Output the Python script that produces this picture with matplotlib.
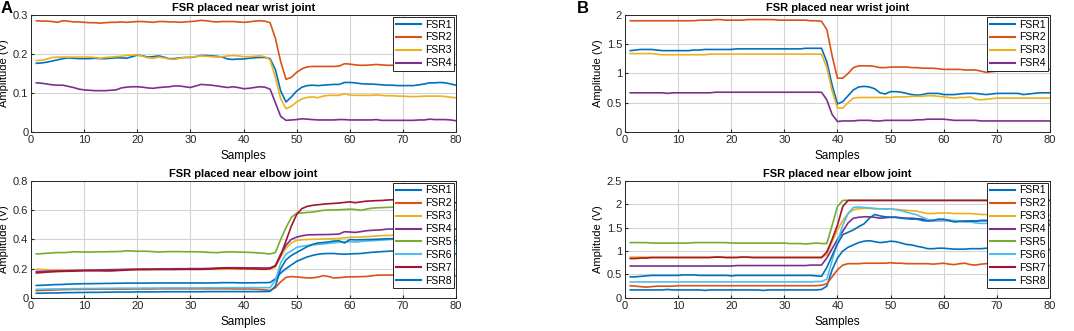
#!/usr/bin/env python3
"""
FSR amplitude traces near wrist and elbow joints (two subjects, A and B)
"""

import numpy as np
import matplotlib
matplotlib.use('Agg')  # Non-interactive backend
import matplotlib.pyplot as plt
from matplotlib.ticker import FormatStrFormatter

plt.rcParams['font.family'] = ['Liberation Sans', 'DejaVu Sans']

samples = list(range(1, 81))

# ---- Panel A, wrist ----
a_wrist_fsr1 = [
    0.176, 0.177, 0.179, 0.182, 0.185, 0.188, 0.190, 0.189, 0.188, 0.188,
    0.188, 0.189, 0.188, 0.188, 0.189, 0.190, 0.190, 0.189, 0.193, 0.197,
    0.195, 0.192, 0.193, 0.195, 0.192, 0.188, 0.188, 0.190, 0.191, 0.191,
    0.193, 0.196, 0.196, 0.195, 0.194, 0.192, 0.187, 0.186, 0.187, 0.187,
    0.189, 0.190, 0.191, 0.191, 0.188, 0.160, 0.105, 0.077, 0.090, 0.105,
    0.115, 0.119, 0.120, 0.119, 0.120, 0.121, 0.122, 0.122, 0.127, 0.127,
    0.126, 0.124, 0.123, 0.123, 0.122, 0.121, 0.120, 0.120, 0.119, 0.119,
    0.119, 0.119, 0.121, 0.123, 0.126, 0.126, 0.127, 0.126, 0.123, 0.120]
a_wrist_fsr2 = [
    0.285, 0.284, 0.284, 0.283, 0.281, 0.285, 0.284, 0.282, 0.282, 0.281,
    0.280, 0.280, 0.279, 0.280, 0.281, 0.281, 0.282, 0.281, 0.282, 0.283,
    0.283, 0.282, 0.281, 0.283, 0.283, 0.282, 0.282, 0.281, 0.282, 0.283,
    0.284, 0.286, 0.285, 0.283, 0.282, 0.283, 0.283, 0.283, 0.282, 0.281,
    0.282, 0.284, 0.285, 0.284, 0.280, 0.240, 0.180, 0.135, 0.140, 0.153,
    0.162, 0.167, 0.168, 0.168, 0.168, 0.168, 0.168, 0.169, 0.175, 0.174,
    0.172, 0.171, 0.171, 0.172, 0.173, 0.172, 0.171, 0.171, 0.171, 0.170,
    0.170, 0.170, 0.171, 0.171, 0.171, 0.171, 0.172, 0.172, 0.172, 0.172]
a_wrist_fsr3 = [
    0.183, 0.184, 0.187, 0.191, 0.192, 0.192, 0.192, 0.192, 0.192, 0.192,
    0.192, 0.191, 0.189, 0.191, 0.192, 0.193, 0.194, 0.196, 0.197, 0.198,
    0.194, 0.190, 0.189, 0.192, 0.190, 0.187, 0.186, 0.189, 0.191, 0.192,
    0.193, 0.195, 0.194, 0.193, 0.192, 0.193, 0.195, 0.196, 0.195, 0.193,
    0.193, 0.194, 0.195, 0.193, 0.185, 0.140, 0.085, 0.060, 0.066, 0.077,
    0.085, 0.089, 0.090, 0.088, 0.092, 0.094, 0.094, 0.094, 0.098, 0.095,
    0.094, 0.094, 0.094, 0.094, 0.095, 0.094, 0.093, 0.093, 0.092, 0.092,
    0.091, 0.091, 0.091, 0.092, 0.092, 0.092, 0.092, 0.091, 0.089, 0.088]
a_wrist_fsr4 = [
    0.126, 0.125, 0.123, 0.121, 0.120, 0.120, 0.117, 0.114, 0.110, 0.108,
    0.107, 0.106, 0.106, 0.106, 0.107, 0.108, 0.113, 0.115, 0.116, 0.116,
    0.115, 0.113, 0.112, 0.114, 0.115, 0.116, 0.118, 0.118, 0.116, 0.114,
    0.118, 0.122, 0.121, 0.120, 0.118, 0.116, 0.114, 0.116, 0.114, 0.111,
    0.112, 0.114, 0.116, 0.115, 0.110, 0.075, 0.040, 0.030, 0.031, 0.032,
    0.034, 0.033, 0.032, 0.031, 0.031, 0.031, 0.031, 0.032, 0.032, 0.031,
    0.031, 0.031, 0.031, 0.031, 0.032, 0.030, 0.030, 0.030, 0.030, 0.030,
    0.030, 0.030, 0.031, 0.031, 0.033, 0.032, 0.032, 0.032, 0.031, 0.029]

# ---- Panel A, elbow ----
a_elbow_fsr1 = [
    0.085, 0.086, 0.088, 0.090, 0.091, 0.092, 0.094, 0.095, 0.096, 0.097,
    0.097, 0.098, 0.098, 0.099, 0.099, 0.100, 0.100, 0.101, 0.101, 0.101,
    0.101, 0.101, 0.102, 0.102, 0.102, 0.102, 0.102, 0.102, 0.102, 0.102,
    0.102, 0.102, 0.102, 0.102, 0.103, 0.104, 0.104, 0.104, 0.103, 0.103,
    0.103, 0.103, 0.104, 0.104, 0.105, 0.130, 0.170, 0.200, 0.225, 0.250,
    0.265, 0.280, 0.290, 0.298, 0.302, 0.303, 0.303, 0.300, 0.298, 0.300,
    0.302, 0.303, 0.307, 0.311, 0.313, 0.316, 0.318, 0.320, 0.320, 0.320,
    0.319, 0.317, 0.316, 0.314, 0.312, 0.310, 0.308, 0.305, 0.302, 0.300]
a_elbow_fsr2 = [
    0.050, 0.051, 0.052, 0.053, 0.055, 0.056, 0.057, 0.058, 0.058, 0.059,
    0.059, 0.059, 0.060, 0.060, 0.060, 0.060, 0.060, 0.060, 0.061, 0.061,
    0.061, 0.061, 0.061, 0.062, 0.062, 0.062, 0.062, 0.062, 0.062, 0.062,
    0.062, 0.062, 0.062, 0.062, 0.062, 0.062, 0.062, 0.061, 0.061, 0.061,
    0.061, 0.060, 0.058, 0.055, 0.050, 0.070, 0.110, 0.140, 0.146, 0.143,
    0.140, 0.136, 0.137, 0.142, 0.152, 0.146, 0.136, 0.138, 0.142, 0.144,
    0.144, 0.145, 0.146, 0.150, 0.155, 0.156, 0.156, 0.156, 0.156, 0.155,
    0.155, 0.154, 0.154, 0.153, 0.153, 0.152, 0.152, 0.151, 0.151, 0.150]
a_elbow_fsr3 = [
    0.195, 0.194, 0.192, 0.190, 0.190, 0.189, 0.189, 0.189, 0.189, 0.190,
    0.190, 0.190, 0.190, 0.191, 0.191, 0.192, 0.192, 0.193, 0.193, 0.194,
    0.194, 0.194, 0.194, 0.195, 0.195, 0.195, 0.195, 0.195, 0.195, 0.195,
    0.195, 0.195, 0.195, 0.195, 0.195, 0.195, 0.196, 0.196, 0.196, 0.196,
    0.196, 0.195, 0.195, 0.195, 0.195, 0.210, 0.280, 0.340, 0.375, 0.393,
    0.397, 0.399, 0.400, 0.401, 0.402, 0.403, 0.404, 0.406, 0.410, 0.414,
    0.414, 0.415, 0.418, 0.420, 0.423, 0.425, 0.426, 0.427, 0.427, 0.426,
    0.425, 0.425, 0.424, 0.424, 0.423, 0.423, 0.422, 0.421, 0.420, 0.420]
a_elbow_fsr4 = [
    0.180, 0.181, 0.182, 0.183, 0.184, 0.185, 0.186, 0.187, 0.188, 0.189,
    0.190, 0.190, 0.191, 0.192, 0.193, 0.193, 0.194, 0.195, 0.196, 0.196,
    0.197, 0.197, 0.197, 0.198, 0.198, 0.198, 0.199, 0.199, 0.199, 0.200,
    0.200, 0.200, 0.201, 0.202, 0.204, 0.205, 0.206, 0.206, 0.206, 0.206,
    0.205, 0.205, 0.205, 0.204, 0.205, 0.220, 0.300, 0.360, 0.400, 0.415,
    0.424, 0.430, 0.431, 0.432, 0.432, 0.433, 0.434, 0.436, 0.452, 0.450,
    0.447, 0.452, 0.458, 0.461, 0.463, 0.465, 0.470, 0.470, 0.470, 0.469,
    0.468, 0.468, 0.469, 0.470, 0.470, 0.470, 0.471, 0.471, 0.471, 0.470]
a_elbow_fsr5 = [
    0.300, 0.302, 0.305, 0.307, 0.310, 0.309, 0.311, 0.315, 0.314, 0.313,
    0.313, 0.314, 0.315, 0.315, 0.316, 0.316, 0.318, 0.322, 0.320, 0.318,
    0.319, 0.318, 0.316, 0.313, 0.315, 0.316, 0.316, 0.316, 0.315, 0.315,
    0.315, 0.314, 0.312, 0.310, 0.309, 0.312, 0.314, 0.314, 0.313, 0.312,
    0.311, 0.309, 0.307, 0.304, 0.300, 0.310, 0.400, 0.480, 0.550, 0.578,
    0.580, 0.583, 0.586, 0.592, 0.598, 0.600, 0.601, 0.602, 0.604, 0.606,
    0.604, 0.598, 0.605, 0.612, 0.615, 0.616, 0.618, 0.619, 0.620, 0.618,
    0.615, 0.612, 0.610, 0.608, 0.606, 0.605, 0.604, 0.603, 0.602, 0.600]
a_elbow_fsr6 = [
    0.058, 0.059, 0.060, 0.061, 0.061, 0.062, 0.062, 0.063, 0.063, 0.064,
    0.064, 0.064, 0.065, 0.065, 0.065, 0.066, 0.066, 0.066, 0.066, 0.066,
    0.067, 0.067, 0.067, 0.067, 0.068, 0.068, 0.068, 0.068, 0.068, 0.068,
    0.068, 0.068, 0.069, 0.069, 0.069, 0.069, 0.070, 0.070, 0.070, 0.070,
    0.070, 0.070, 0.070, 0.070, 0.070, 0.120, 0.240, 0.300, 0.320, 0.345,
    0.352, 0.358, 0.362, 0.366, 0.368, 0.372, 0.376, 0.380, 0.382, 0.384,
    0.381, 0.385, 0.388, 0.390, 0.392, 0.394, 0.397, 0.400, 0.398, 0.396,
    0.393, 0.390, 0.387, 0.385, 0.382, 0.380, 0.378, 0.376, 0.373, 0.370]
a_elbow_fsr7 = [
    0.170, 0.173, 0.176, 0.178, 0.180, 0.181, 0.182, 0.183, 0.184, 0.185,
    0.185, 0.185, 0.185, 0.184, 0.184, 0.186, 0.188, 0.190, 0.192, 0.193,
    0.193, 0.193, 0.194, 0.194, 0.194, 0.194, 0.194, 0.195, 0.195, 0.195,
    0.195, 0.195, 0.196, 0.198, 0.200, 0.202, 0.203, 0.202, 0.201, 0.200,
    0.199, 0.199, 0.197, 0.196, 0.200, 0.220, 0.290, 0.390, 0.490, 0.570,
    0.610, 0.625, 0.632, 0.636, 0.640, 0.643, 0.645, 0.648, 0.652, 0.656,
    0.650, 0.655, 0.660, 0.662, 0.664, 0.665, 0.668, 0.670, 0.666, 0.660,
    0.658, 0.656, 0.655, 0.654, 0.653, 0.652, 0.651, 0.650, 0.650, 0.650]
a_elbow_fsr8 = [
    0.032, 0.032, 0.033, 0.034, 0.034, 0.035, 0.036, 0.036, 0.037, 0.037,
    0.038, 0.038, 0.038, 0.039, 0.039, 0.040, 0.040, 0.040, 0.040, 0.041,
    0.041, 0.041, 0.041, 0.041, 0.042, 0.042, 0.042, 0.042, 0.042, 0.042,
    0.042, 0.042, 0.043, 0.043, 0.043, 0.043, 0.043, 0.043, 0.043, 0.043,
    0.043, 0.043, 0.043, 0.043, 0.045, 0.080, 0.200, 0.260, 0.290, 0.310,
    0.330, 0.350, 0.365, 0.375, 0.378, 0.382, 0.388, 0.390, 0.375, 0.398,
    0.396, 0.397, 0.398, 0.399, 0.400, 0.402, 0.404, 0.404, 0.402, 0.400,
    0.399, 0.398, 0.397, 0.397, 0.396, 0.395, 0.395, 0.394, 0.393, 0.392]

# ---- Panel B, wrist ----
b_wrist_fsr1 = [
    1.39, 1.40, 1.41, 1.41, 1.41, 1.40, 1.39, 1.39, 1.39, 1.39,
    1.39, 1.39, 1.40, 1.40, 1.41, 1.41, 1.41, 1.41, 1.41, 1.41,
    1.42, 1.42, 1.42, 1.42, 1.42, 1.42, 1.42, 1.42, 1.42, 1.42,
    1.42, 1.42, 1.42, 1.43, 1.43, 1.43, 1.43, 1.20, 0.80, 0.48,
    0.52, 0.62, 0.72, 0.77, 0.78, 0.77, 0.74, 0.67, 0.65, 0.69,
    0.69, 0.68, 0.66, 0.64, 0.63, 0.64, 0.66, 0.66, 0.66, 0.64,
    0.64, 0.64, 0.65, 0.66, 0.66, 0.66, 0.65, 0.64, 0.65, 0.66,
    0.66, 0.66, 0.66, 0.66, 0.64, 0.65, 0.66, 0.67, 0.67, 0.67]
b_wrist_fsr2 = [
    1.90, 1.90, 1.90, 1.90, 1.90, 1.90, 1.90, 1.90, 1.90, 1.90,
    1.90, 1.90, 1.90, 1.91, 1.91, 1.91, 1.92, 1.92, 1.91, 1.91,
    1.91, 1.91, 1.92, 1.92, 1.92, 1.92, 1.92, 1.92, 1.91, 1.91,
    1.91, 1.91, 1.91, 1.91, 1.90, 1.90, 1.89, 1.75, 1.30, 0.92,
    0.92, 1.00, 1.10, 1.13, 1.13, 1.13, 1.12, 1.10, 1.10, 1.11,
    1.11, 1.11, 1.11, 1.10, 1.10, 1.09, 1.09, 1.09, 1.08, 1.07,
    1.07, 1.07, 1.07, 1.06, 1.06, 1.06, 1.04, 1.02, 1.03, 1.04,
    1.05, 1.06, 1.07, 1.07, 1.07, 1.07, 1.07, 1.07, 1.07, 1.07]
b_wrist_fsr3 = [
    1.34, 1.34, 1.34, 1.34, 1.34, 1.33, 1.32, 1.32, 1.32, 1.32,
    1.32, 1.32, 1.32, 1.32, 1.32, 1.33, 1.33, 1.33, 1.33, 1.33,
    1.33, 1.33, 1.33, 1.33, 1.33, 1.33, 1.33, 1.33, 1.33, 1.33,
    1.33, 1.33, 1.33, 1.33, 1.33, 1.33, 1.33, 1.10, 0.70, 0.41,
    0.41, 0.50, 0.58, 0.59, 0.59, 0.59, 0.59, 0.59, 0.59, 0.59,
    0.60, 0.60, 0.60, 0.61, 0.61, 0.61, 0.62, 0.62, 0.61, 0.60,
    0.59, 0.58, 0.59, 0.59, 0.60, 0.56, 0.55, 0.56, 0.57, 0.58,
    0.58, 0.58, 0.58, 0.58, 0.58, 0.58, 0.58, 0.58, 0.58, 0.58]
b_wrist_fsr4 = [
    0.67, 0.67, 0.67, 0.67, 0.67, 0.67, 0.67, 0.66, 0.67, 0.67,
    0.67, 0.67, 0.67, 0.67, 0.67, 0.67, 0.68, 0.68, 0.68, 0.68,
    0.68, 0.68, 0.68, 0.68, 0.68, 0.68, 0.68, 0.68, 0.68, 0.68,
    0.68, 0.68, 0.68, 0.68, 0.68, 0.68, 0.68, 0.55, 0.30, 0.18,
    0.19, 0.19, 0.19, 0.20, 0.20, 0.20, 0.19, 0.19, 0.20, 0.20,
    0.20, 0.20, 0.20, 0.20, 0.21, 0.21, 0.22, 0.22, 0.22, 0.22,
    0.21, 0.20, 0.20, 0.20, 0.20, 0.20, 0.19, 0.19, 0.19, 0.19,
    0.19, 0.19, 0.19, 0.19, 0.19, 0.19, 0.19, 0.19, 0.19, 0.19]

# ---- Panel B, elbow ----
b_elbow_fsr1 = [
    0.17, 0.17, 0.17, 0.17, 0.17, 0.17, 0.17, 0.18, 0.17, 0.17,
    0.17, 0.17, 0.17, 0.17, 0.16, 0.17, 0.17, 0.17, 0.17, 0.17,
    0.17, 0.17, 0.17, 0.17, 0.17, 0.16, 0.17, 0.17, 0.17, 0.17,
    0.17, 0.17, 0.17, 0.17, 0.17, 0.17, 0.18, 0.25, 0.60, 0.85,
    1.00, 1.08, 1.13, 1.18, 1.21, 1.22, 1.20, 1.18, 1.19, 1.21,
    1.20, 1.17, 1.14, 1.13, 1.10, 1.08, 1.05, 1.05, 1.06, 1.06,
    1.05, 1.04, 1.04, 1.04, 1.05, 1.05, 1.05, 1.06, 1.06, 1.06,
    1.05, 1.05, 1.05, 1.05, 1.05, 1.04, 1.04, 1.04, 1.03, 1.03]
b_elbow_fsr2 = [
    0.26, 0.25, 0.24, 0.23, 0.24, 0.25, 0.25, 0.25, 0.25, 0.26,
    0.26, 0.26, 0.26, 0.26, 0.26, 0.26, 0.26, 0.26, 0.26, 0.26,
    0.26, 0.26, 0.26, 0.26, 0.26, 0.26, 0.26, 0.26, 0.26, 0.26,
    0.26, 0.26, 0.26, 0.26, 0.26, 0.26, 0.27, 0.30, 0.45, 0.60,
    0.70, 0.73, 0.73, 0.73, 0.74, 0.74, 0.74, 0.74, 0.74, 0.75,
    0.74, 0.74, 0.73, 0.73, 0.73, 0.73, 0.73, 0.72, 0.73, 0.74,
    0.72, 0.71, 0.73, 0.74, 0.71, 0.70, 0.72, 0.73, 0.74, 0.73,
    0.73, 0.72, 0.72, 0.71, 0.71, 0.70, 0.70, 0.69, 0.69, 0.69]
b_elbow_fsr3 = [
    0.87, 0.87, 0.87, 0.87, 0.87, 0.87, 0.87, 0.87, 0.87, 0.87,
    0.87, 0.87, 0.87, 0.87, 0.87, 0.87, 0.87, 0.87, 0.87, 0.87,
    0.87, 0.87, 0.87, 0.87, 0.87, 0.87, 0.87, 0.87, 0.87, 0.87,
    0.87, 0.87, 0.87, 0.87, 0.87, 0.87, 0.87, 0.92, 1.20, 1.45,
    1.65, 1.80, 1.88, 1.90, 1.91, 1.91, 1.90, 1.90, 1.90, 1.90,
    1.89, 1.88, 1.87, 1.86, 1.85, 1.82, 1.80, 1.80, 1.81, 1.81,
    1.81, 1.80, 1.80, 1.80, 1.80, 1.79, 1.78, 1.78, 1.78, 1.79,
    1.79, 1.79, 1.79, 1.78, 1.78, 1.78, 1.78, 1.78, 1.77, 1.77]
b_elbow_fsr4 = [
    0.68, 0.68, 0.68, 0.68, 0.68, 0.68, 0.68, 0.68, 0.68, 0.68,
    0.68, 0.68, 0.68, 0.68, 0.68, 0.68, 0.68, 0.68, 0.68, 0.68,
    0.69, 0.69, 0.69, 0.69, 0.69, 0.69, 0.69, 0.69, 0.69, 0.69,
    0.69, 0.69, 0.69, 0.69, 0.70, 0.70, 0.70, 0.85, 1.05, 1.25,
    1.42, 1.60, 1.70, 1.72, 1.73, 1.73, 1.72, 1.70, 1.71, 1.72,
    1.72, 1.71, 1.70, 1.70, 1.69, 1.68, 1.66, 1.65, 1.65, 1.65,
    1.65, 1.64, 1.64, 1.64, 1.64, 1.64, 1.65, 1.65, 1.65, 1.65,
    1.65, 1.65, 1.65, 1.65, 1.65, 1.65, 1.65, 1.65, 1.65, 1.65]
b_elbow_fsr5 = [
    1.18, 1.18, 1.18, 1.18, 1.17, 1.17, 1.17, 1.17, 1.17, 1.17,
    1.17, 1.17, 1.18, 1.18, 1.18, 1.18, 1.18, 1.18, 1.18, 1.17,
    1.17, 1.17, 1.17, 1.17, 1.17, 1.17, 1.17, 1.17, 1.17, 1.17,
    1.16, 1.16, 1.16, 1.15, 1.16, 1.17, 1.16, 1.16, 1.55, 1.95,
    2.08, 2.08, 2.08, 2.08, 2.08, 2.08, 2.08, 2.08, 2.08, 2.08,
    2.08, 2.08, 2.08, 2.08, 2.08, 2.08, 2.08, 2.08, 2.08, 2.08,
    2.08, 2.08, 2.08, 2.08, 2.08, 2.08, 2.08, 2.08, 2.08, 2.08,
    2.08, 2.08, 2.08, 2.08, 2.08, 2.08, 2.08, 2.08, 2.08, 2.08]
b_elbow_fsr6 = [
    0.34, 0.34, 0.34, 0.34, 0.34, 0.34, 0.34, 0.34, 0.34, 0.34,
    0.34, 0.34, 0.34, 0.34, 0.34, 0.34, 0.34, 0.34, 0.34, 0.34,
    0.34, 0.34, 0.34, 0.34, 0.34, 0.34, 0.34, 0.34, 0.34, 0.34,
    0.34, 0.34, 0.34, 0.34, 0.34, 0.35, 0.35, 0.40, 0.80, 1.20,
    1.55, 1.80, 1.93, 1.94, 1.93, 1.92, 1.91, 1.90, 1.90, 1.90,
    1.88, 1.86, 1.83, 1.80, 1.77, 1.72, 1.67, 1.65, 1.66, 1.66,
    1.66, 1.65, 1.64, 1.63, 1.62, 1.60, 1.59, 1.59, 1.60, 1.60,
    1.60, 1.60, 1.60, 1.59, 1.59, 1.59, 1.58, 1.58, 1.58, 1.58]
b_elbow_fsr7 = [
    0.84, 0.84, 0.85, 0.85, 0.86, 0.86, 0.86, 0.86, 0.86, 0.86,
    0.86, 0.86, 0.86, 0.86, 0.86, 0.86, 0.87, 0.87, 0.86, 0.86,
    0.86, 0.87, 0.87, 0.86, 0.86, 0.86, 0.86, 0.86, 0.86, 0.86,
    0.86, 0.86, 0.86, 0.86, 0.86, 0.86, 0.86, 0.98, 1.25, 1.55,
    1.95, 2.08, 2.08, 2.08, 2.08, 2.08, 2.08, 2.08, 2.08, 2.08,
    2.08, 2.08, 2.08, 2.08, 2.08, 2.08, 2.08, 2.08, 2.08, 2.08,
    2.08, 2.08, 2.08, 2.08, 2.08, 2.08, 2.08, 2.08, 2.08, 2.08,
    2.08, 2.08, 2.08, 2.08, 2.08, 2.08, 2.08, 2.08, 2.08, 2.08]
b_elbow_fsr8 = [
    0.45, 0.45, 0.46, 0.47, 0.48, 0.48, 0.48, 0.48, 0.48, 0.48,
    0.49, 0.49, 0.49, 0.48, 0.48, 0.48, 0.48, 0.48, 0.48, 0.47,
    0.48, 0.48, 0.48, 0.48, 0.48, 0.48, 0.48, 0.48, 0.48, 0.48,
    0.48, 0.48, 0.48, 0.48, 0.48, 0.47, 0.46, 0.65, 0.90, 1.15,
    1.35, 1.40, 1.45, 1.52, 1.58, 1.70, 1.78, 1.75, 1.73, 1.72,
    1.72, 1.70, 1.69, 1.68, 1.68, 1.65, 1.64, 1.65, 1.68, 1.68,
    1.65, 1.62, 1.63, 1.63, 1.64, 1.64, 1.65, 1.65, 1.65, 1.65,
    1.65, 1.65, 1.63, 1.62, 1.60, 1.59, 1.58, 1.57, 1.56, 1.55]

# MATLAB default line colour order (8th wraps back to the first)
colors = ['#0072BD', '#D95319', '#EDB120', '#7E2F8E',
          '#77AC30', '#4DBEEE', '#A2142F', '#0072BD']


def draw_panel(fig, rect, series, title, ylim, yticks):
    """One MATLAB-style subplot with a boxed legend on the right"""
    ax = fig.add_axes(rect)
    for i, y in enumerate(series):
        ax.plot(samples, y, color=colors[i], lw=1.2, label=f'FSR{i + 1}')

    ax.set_xlim(0, 80)
    ax.set_ylim(*ylim)
    ax.set_xticks(range(0, 81, 10))
    ax.set_yticks(yticks)
    ax.yaxis.set_major_formatter(FormatStrFormatter('%g'))
    ax.grid(True, color='#d4d4d4', lw=0.8)
    ax.set_axisbelow(True)
    ax.tick_params(direction='in', length=2.5, labelsize=8, pad=2,
                   colors='#262626')
    for s in ax.spines.values():
        s.set_color('#262626')
        s.set_linewidth(0.7)

    ax.set_title(title, fontsize=8, fontweight='bold', pad=3)
    ax.set_xlabel('Samples', fontsize=8.5, labelpad=4)
    ax.set_ylabel('Amplitude (V)', fontsize=8, labelpad=3)

    leg = ax.legend(loc='upper right', fontsize=7.5, handlelength=2.4,
                    handletextpad=0.35, borderpad=0.25, labelspacing=0.28,
                    borderaxespad=0.2, fancybox=False, framealpha=1,
                    edgecolor='#262626')
    leg.get_frame().set_linewidth(0.7)
    for line in leg.get_lines():
        line.set_linewidth(1.5)
    return ax


fig = plt.figure(figsize=(10.74, 3.31), dpi=100)

w = 0.3957
h = 0.354
top_y = 0.601
bot_y = 0.100
left_a = 0.0289
left_b = 0.5819

draw_panel(fig, [left_a, top_y, w, h],
           [a_wrist_fsr1, a_wrist_fsr2, a_wrist_fsr3, a_wrist_fsr4],
           'FSR placed near wrist joint', (0, 0.3), [0, 0.1, 0.2, 0.3])
draw_panel(fig, [left_a, bot_y, w, h],
           [a_elbow_fsr1, a_elbow_fsr2, a_elbow_fsr3, a_elbow_fsr4,
            a_elbow_fsr5, a_elbow_fsr6, a_elbow_fsr7, a_elbow_fsr8],
           'FSR placed near elbow joint', (0, 0.8), [0, 0.2, 0.4, 0.6, 0.8])
draw_panel(fig, [left_b, top_y, w, h],
           [b_wrist_fsr1, b_wrist_fsr2, b_wrist_fsr3, b_wrist_fsr4],
           'FSR placed near wrist joint', (0, 2), [0, 0.5, 1, 1.5, 2])
draw_panel(fig, [left_b, bot_y, w, h],
           [b_elbow_fsr1, b_elbow_fsr2, b_elbow_fsr3, b_elbow_fsr4,
            b_elbow_fsr5, b_elbow_fsr6, b_elbow_fsr7, b_elbow_fsr8],
           'FSR placed near elbow joint', (0, 2.5), [0, 0.5, 1, 1.5, 2, 2.5])

# Panel letters
fig.text(0.001, 0.998, 'A', fontsize=12, fontweight='bold', va='top')
fig.text(0.537, 0.998, 'B', fontsize=12, fontweight='bold', va='top')

fig.savefig('out.png', dpi=100)
plt.close(fig)
